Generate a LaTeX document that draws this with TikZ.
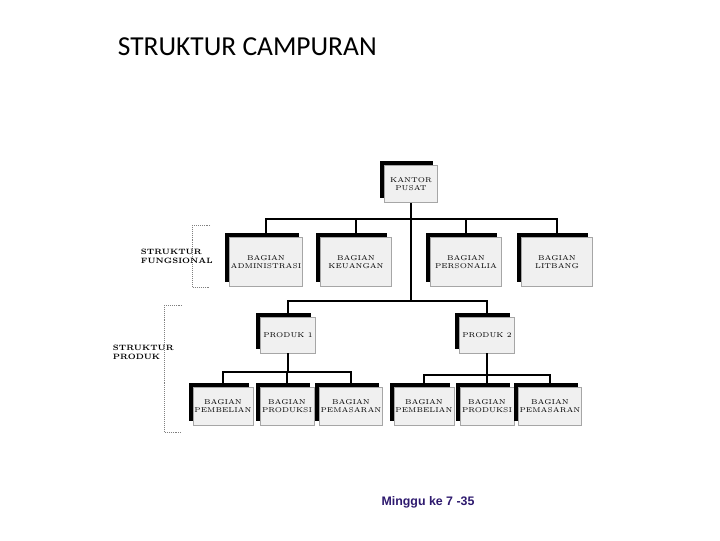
\documentclass[tikz,border=0pt]{standalone}
\usepackage{fontspec}
\newfontfamily\titlefont{Carlito}
\newfontfamily\footfont{Liberation Sans}
\usetikzlibrary{shadows}
\usetikzlibrary{math}
\definecolor{minggu}{RGB}{45,25,110}
\tikzstyle{unit} = [draw=gray!70, fill=gray!12, text centered, align=center, inner sep=1pt, font=\fontsize{5}{6}\selectfont, drop shadow={shadow xshift=-3pt, shadow yshift=3pt, fill=black, opacity=1}]
\tikzstyle{wide} = [minimum width=1.78cm, minimum height=1.22cm]
\tikzstyle{small} = [minimum width=1.35cm, minimum height=0.95cm]
\tikzstyle{line} = [line width=0.9pt]
\tikzstyle{bracket} = [densely dotted, gray]
\tikzstyle{side} = [anchor=west, align=left, font=\bfseries\fontsize{5.5}{6.5}\selectfont]

\begin{document}
\begin{tikzpicture}[x=0.025cm, y=-0.025cm]

  \useasboundingbox (0,0) rectangle (720,540);
  \tikzmath{\ya = 219; \yb = 301; \yc = 372; \yd = 375;}

  \node[anchor=west, font=\titlefont\fontsize{19.5}{22}\selectfont] (title) at (113,47) {STRUKTUR CAMPURAN};

  % top
  \node[unit, minimum width=1.33cm, minimum height=0.93cm] (kantor) at (411,184) {KANTOR\\PUSAT};

  % fungsional
  \node[unit, wide] (adm) at (266,262) {BAGIAN\\ADMINISTRASI};
  \node[unit, wide] (keu) at (356,262) {BAGIAN\\KEUANGAN};
  \node[unit, wide] (pers) at (466,262) {BAGIAN\\PERSONALIA};
  \node[unit, wide] (lit) at (557,262) {BAGIAN\\LITBANG};

  % produk
  \node[unit, minimum width=1.38cm, minimum height=0.9cm] (p1) at (288,335) {PRODUK 1};
  \node[unit, minimum width=1.38cm, minimum height=0.9cm] (p2) at (487,335) {PRODUK 2};

  \node[unit, small] (beli1) at (223,406) {BAGIAN\\PEMBELIAN};
  \node[unit, small] (prod1) at (287,406) {BAGIAN\\PRODUKSI};
  \node[unit, small] (pasar1) at (351,406) {BAGIAN\\PEMASARAN};
  \node[unit, small] (beli2) at (424,406) {BAGIAN\\PEMBELIAN};
  \node[unit, small] (prod2) at (487,406) {BAGIAN\\PRODUKSI};
  \node[unit, small] (pasar2) at (550,406) {BAGIAN\\PEMASARAN};

  \coordinate (busa) at (0,\ya);
  \coordinate (busb) at (0,\yb);
  \coordinate (busc) at (0,\yc);
  \coordinate (busd) at (0,\yd);

  \draw[line] (kantor.south) -- (kantor.south |- busb);
  \foreach \n in {adm, keu, pers, lit}
    \draw[line] (kantor.south |- busa) -| (\n.north);
  \foreach \n in {p1, p2}
    \draw[line] (kantor.south |- busb) -| (\n.north);

  \draw[line] (p1.south) -- (p1.south |- busc);
  \foreach \n in {beli1, prod1, pasar1}
    \draw[line] (p1.south |- busc) -| (\n.north);
  \draw[line] (p2.south) -- (p2.south |- busd);
  \foreach \n in {beli2, prod2, pasar2}
    \draw[line] (p2.south |- busd) -| (\n.north);

  % side labels
  \draw[bracket] (210,225) -| (192,287) -- (210,287);
  \node[side] (fungsi) at (136,256) {STRUKTUR\\FUNGSIONAL};
  \draw[bracket] (182,305) -| (164,432) -- (182,432);
  \node[side] (produk) at (108,352) {STRUKTUR\\PRODUK};

  \node[font=\footfont\bfseries\fontsize{8.8}{10}\selectfont, text=minggu] (minggu) at (428,502) {Minggu ke 7 -35};

\end{tikzpicture}
\end{document}
